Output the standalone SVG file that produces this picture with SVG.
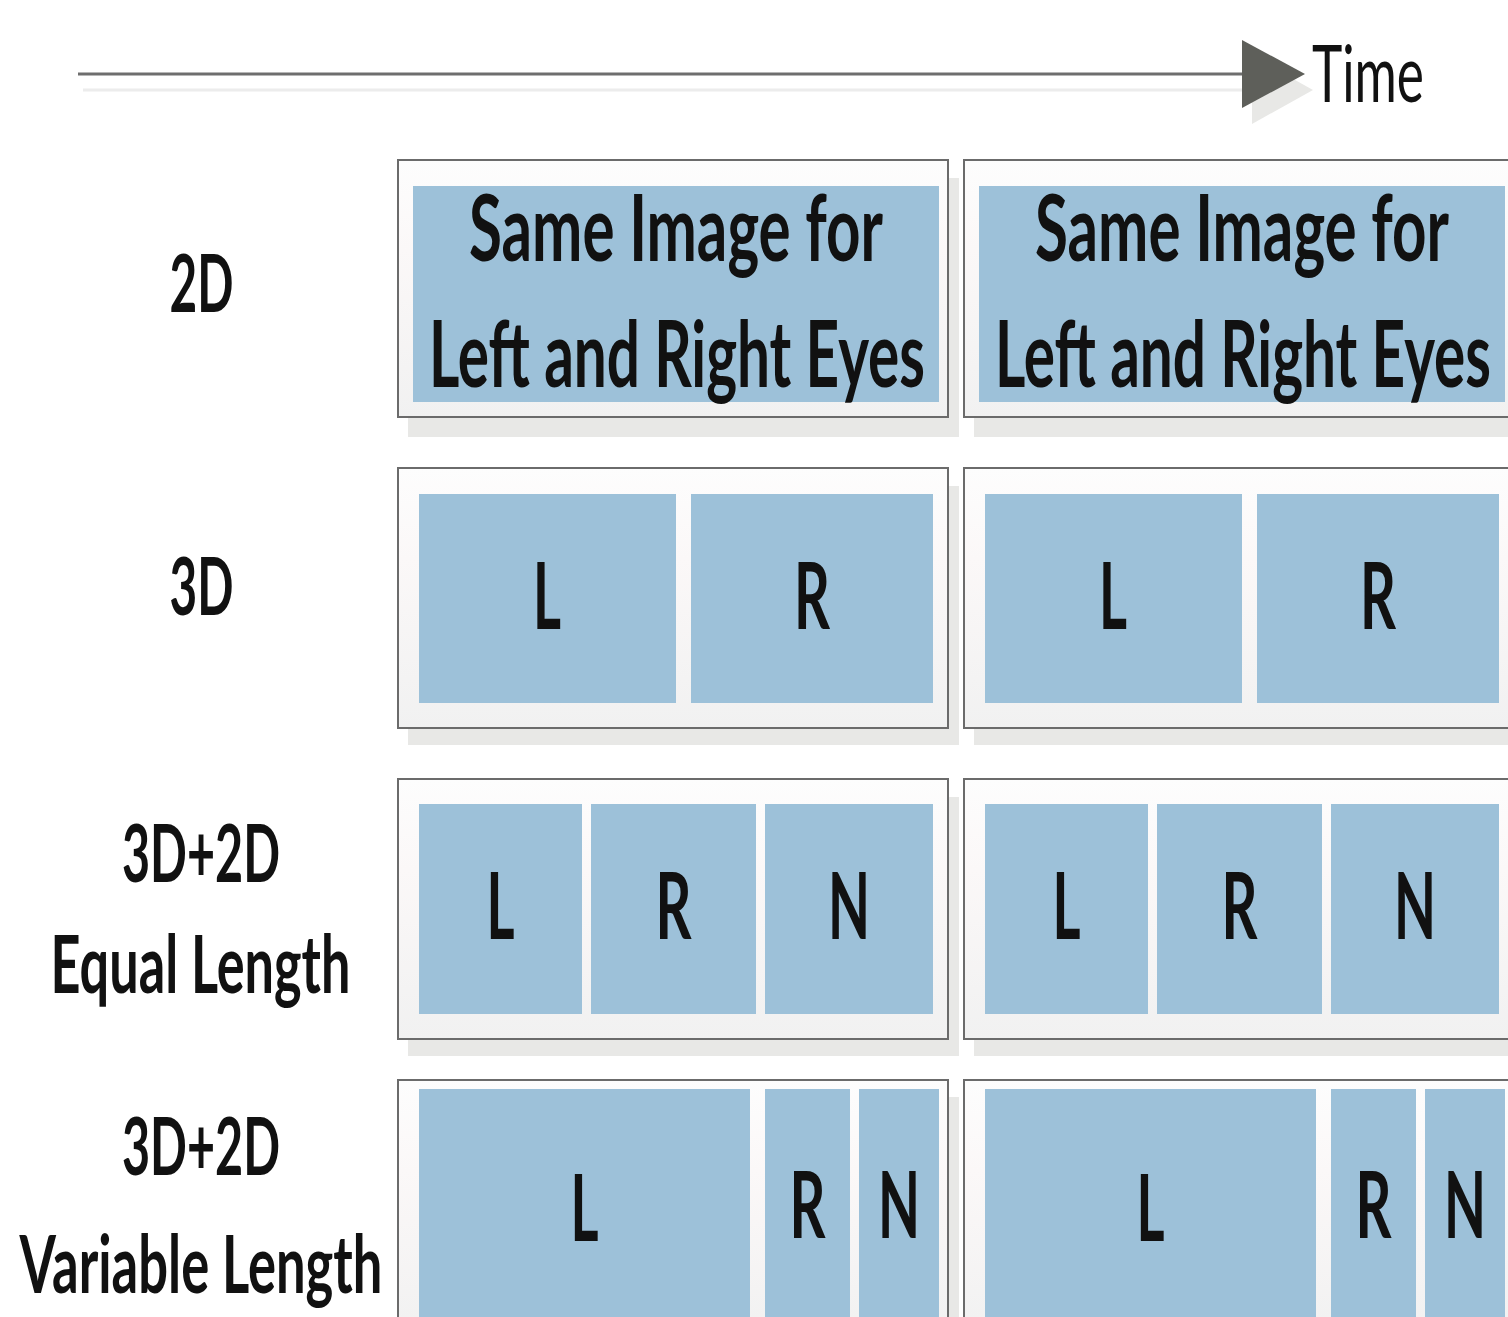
<svg xmlns="http://www.w3.org/2000/svg" width="1508" height="1317" viewBox="0 0 1508 1317">
<defs>
<linearGradient id="fg" x1="0" y1="0" x2="0" y2="1">
<stop offset="0" stop-color="#fdfdfd"/>
<stop offset="0.35" stop-color="#fbf8f8"/>
<stop offset="1" stop-color="#f1f1f1"/>
</linearGradient>
<style>
.frame{fill:url(#fg);stroke:#6b6b6b;stroke-width:2}
.shadow{fill:#e8e8e6}
.cell{fill:#9dc1d9}
.t{font-family:Lato,"Open Sans","Liberation Sans",sans-serif;fill:#111;text-anchor:middle}
.big{font-weight:700;font-size:92px}
.lab{font-weight:700;font-size:81px}
.time{font-weight:400;font-size:80px;text-anchor:start}
</style>
</defs>
<rect width="1508" height="1317" fill="#ffffff"/>

<g id="time-axis">
<line x1="83" y1="90" x2="1250" y2="90" stroke="#ececec" stroke-width="3"/>
<polygon points="1252,56 1313,90 1252,124" fill="#e8e8e6"/>
<line x1="78" y1="74" x2="1245" y2="74" stroke="#6e6e6e" stroke-width="3"/>
<polygon points="1242,40 1305,74 1242,108" fill="#5e5f5a"/>
<text class="t time" x="1312" y="102" textLength="112" lengthAdjust="spacingAndGlyphs">Time</text>
</g>

<g id="row-labels">
<text class="t lab" x="201.5" y="312" textLength="64" lengthAdjust="spacingAndGlyphs">2D</text>
<text class="t lab" x="201.5" y="615" textLength="64" lengthAdjust="spacingAndGlyphs">3D</text>
<text class="t lab" x="201" y="882" textLength="158" lengthAdjust="spacingAndGlyphs">3D+2D</text>
<text class="t lab" x="200.5" y="993" textLength="300" lengthAdjust="spacingAndGlyphs">Equal Length</text>
<text class="t lab" x="201" y="1175" textLength="158" lengthAdjust="spacingAndGlyphs">3D+2D</text>
<text class="t lab" x="201" y="1293" textLength="363" lengthAdjust="spacingAndGlyphs">Variable Length</text>
</g>

<g id="row-2d">
<g id="frame-2d-1">
<rect class="shadow" x="408" y="178" width="551" height="259"/>
<rect class="frame" x="398" y="160" width="550" height="257"/>
<rect class="cell" x="413" y="186" width="526" height="216"/>
<text class="t big" x="676" y="261" textLength="414" lengthAdjust="spacingAndGlyphs">Same Image for</text>
<text class="t big" x="677" y="387" textLength="496" lengthAdjust="spacingAndGlyphs">Left and Right Eyes</text>
</g>
<g id="frame-2d-2">
<rect class="shadow" x="974" y="178" width="551" height="259"/>
<rect class="frame" x="964" y="160" width="550" height="257"/>
<rect class="cell" x="979" y="186" width="526" height="216"/>
<text class="t big" x="1242" y="261" textLength="414" lengthAdjust="spacingAndGlyphs">Same Image for</text>
<text class="t big" x="1243" y="387" textLength="496" lengthAdjust="spacingAndGlyphs">Left and Right Eyes</text>
</g>
</g>

<g id="row-3d">
<g id="frame-3d-1">
<rect class="shadow" x="408" y="486" width="551" height="259"/>
<rect class="frame" x="398" y="468" width="550" height="260"/>
<rect class="cell" x="419" y="494" width="257" height="209"/>
<rect class="cell" x="691" y="494" width="242" height="209"/>
<text class="t big" x="547" y="629" textLength="28" lengthAdjust="spacingAndGlyphs">L</text>
<text class="t big" x="812" y="629" textLength="36" lengthAdjust="spacingAndGlyphs">R</text>
</g>
<g id="frame-3d-2">
<rect class="shadow" x="974" y="486" width="551" height="259"/>
<rect class="frame" x="964" y="468" width="550" height="260"/>
<rect class="cell" x="985" y="494" width="257" height="209"/>
<rect class="cell" x="1257" y="494" width="242" height="209"/>
<text class="t big" x="1113" y="629" textLength="28" lengthAdjust="spacingAndGlyphs">L</text>
<text class="t big" x="1378" y="629" textLength="36" lengthAdjust="spacingAndGlyphs">R</text>
</g>
</g>

<g id="row-3d2d-equal">
<g id="frame-eq-1">
<rect class="shadow" x="408" y="797" width="551" height="259"/>
<rect class="frame" x="398" y="779" width="550" height="260"/>
<rect class="cell" x="419" y="804" width="163" height="210"/>
<rect class="cell" x="591" y="804" width="165" height="210"/>
<rect class="cell" x="765" y="804" width="168" height="210"/>
<text class="t big" x="500.5" y="939" textLength="28" lengthAdjust="spacingAndGlyphs">L</text>
<text class="t big" x="673.5" y="939" textLength="36" lengthAdjust="spacingAndGlyphs">R</text>
<text class="t big" x="849" y="939" textLength="42" lengthAdjust="spacingAndGlyphs">N</text>
</g>
<g id="frame-eq-2">
<rect class="shadow" x="974" y="797" width="551" height="259"/>
<rect class="frame" x="964" y="779" width="550" height="260"/>
<rect class="cell" x="985" y="804" width="163" height="210"/>
<rect class="cell" x="1157" y="804" width="165" height="210"/>
<rect class="cell" x="1331" y="804" width="168" height="210"/>
<text class="t big" x="1066.5" y="939" textLength="28" lengthAdjust="spacingAndGlyphs">L</text>
<text class="t big" x="1239.5" y="939" textLength="36" lengthAdjust="spacingAndGlyphs">R</text>
<text class="t big" x="1415" y="939" textLength="42" lengthAdjust="spacingAndGlyphs">N</text>
</g>
</g>

<g id="row-3d2d-variable">
<g id="frame-var-1">
<rect class="shadow" x="408" y="1097" width="551" height="259"/>
<rect class="frame" x="398" y="1080" width="550" height="260"/>
<rect class="cell" x="419" y="1089" width="331" height="240"/>
<rect class="cell" x="765" y="1089" width="85" height="240"/>
<rect class="cell" x="859" y="1089" width="80" height="240"/>
<text class="t big" x="584.5" y="1241" textLength="28" lengthAdjust="spacingAndGlyphs">L</text>
<text class="t big" x="807.5" y="1238" textLength="36" lengthAdjust="spacingAndGlyphs">R</text>
<text class="t big" x="899" y="1238" textLength="42" lengthAdjust="spacingAndGlyphs">N</text>
</g>
<g id="frame-var-2">
<rect class="shadow" x="974" y="1097" width="551" height="259"/>
<rect class="frame" x="964" y="1080" width="550" height="260"/>
<rect class="cell" x="985" y="1089" width="331" height="240"/>
<rect class="cell" x="1331" y="1089" width="85" height="240"/>
<rect class="cell" x="1425" y="1089" width="80" height="240"/>
<text class="t big" x="1150.5" y="1241" textLength="28" lengthAdjust="spacingAndGlyphs">L</text>
<text class="t big" x="1373.5" y="1238" textLength="36" lengthAdjust="spacingAndGlyphs">R</text>
<text class="t big" x="1465" y="1238" textLength="42" lengthAdjust="spacingAndGlyphs">N</text>
</g>
</g>

<g id="connectors"></g>
</svg>
